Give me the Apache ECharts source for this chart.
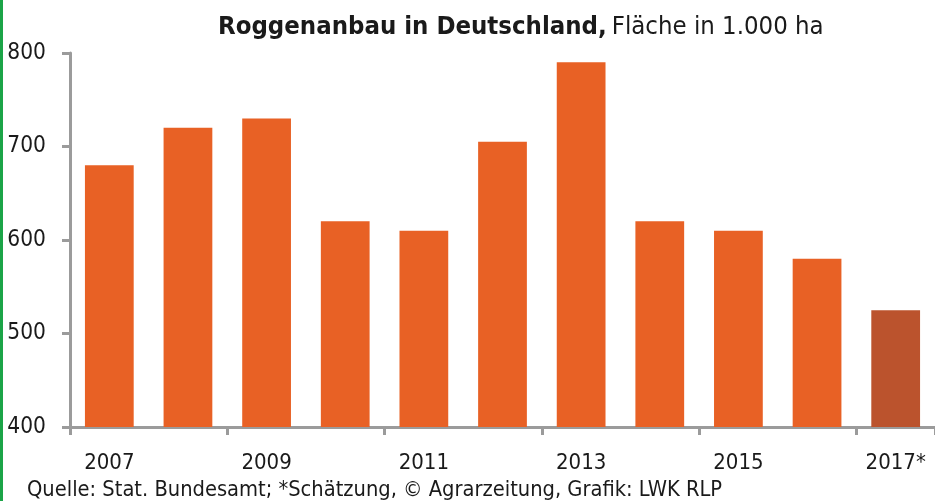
<!DOCTYPE html>
<html>
<head>
<meta charset="utf-8">
<script src="https://cdn.jsdelivr.net/npm/echarts@6/dist/echarts.min.js"></script>
<style>
  html, body { margin: 0; padding: 0; background: #fff; }
  #chart { width: 935px; height: 501px; }
</style>
</head>
<body>
<div id="chart"></div>
<script>
var years = ['2007', '2008', '2009', '2010', '2011', '2012', '2013', '2014', '2015', '2016', '2017*'];
var area = [680, 720, 730, 620, 610, 705, 790, 620, 610, 580, 525];
var estimated = [false, false, false, false, false, false, false, false, false, false, true];
var yTicks = [400, 500, 600, 700, 800];

var font = '"Liberation Sans Narrow", "DejaVu Sans Condensed", sans-serif';

var barData = area.map(function(v, i) {
    return {
        value: v,
        itemStyle: { color: estimated[i] ? '#BB532D' : '#E86125' }
    };
});

var chart = echarts.init(document.getElementById('chart'));

option = {
    backgroundColor: '#fff',
    animation: false,
    title: {
        left: 213,
        top: 9,
        text: '{b|Roggenanbau in Deutschland,} {n|Fläche in 1.000 ha}',
        textStyle: {
            rich: {
                b: { fontFamily: font, fontWeight: 'bold', fontSize: 25.5, color: '#1a1a1a' },
                n: { fontFamily: font, fontWeight: 'normal', fontSize: 25.5, color: '#1a1a1a' }
            }
        }
    },
    grid: {
        left: 70,
        right: -6,
        top: 53,
        bottom: 74
    },
    xAxis: {
        type: 'category',
        data: years,
        axisLine: { lineStyle: { color: '#9B9B9B', width: 3 } },
        axisTick: { show: true, length: 8, lineStyle: { color: '#9B9B9B', width: 3 } },
        axisLabel: {
            interval: 1,
            margin: 25,
            fontFamily: font,
            fontSize: 22,
            color: '#1a1a1a'
        }
    },
    yAxis: {
        type: 'value',
        min: yTicks[0],
        max: yTicks[yTicks.length - 1],
        interval: 100,
        axisLine: { show: true, lineStyle: { color: '#9B9B9B', width: 3 } },
        axisTick: { show: true, length: 8, lineStyle: { color: '#9B9B9B', width: 3 } },
        splitLine: { show: false },
        axisLabel: {
            margin: 24,
            fontFamily: font,
            fontSize: 22.5,
            color: '#1a1a1a'
        }
    },
    series: [{
        name: 'Fläche',
        type: 'bar',
        barWidth: '62%',
        data: barData
    }],
    graphic: [{
        type: 'rect',
        left: 0,
        top: 0,
        shape: { width: 3, height: 501 },
        style: { fill: '#1BA447' }
    }, {
        type: 'text',
        left: 27,
        top: 479,
        style: {
            text: 'Quelle: Stat. Bundesamt; *Schätzung, © Agrarzeitung, Grafik: LWK RLP',
            font: '21.7px ' + font,
            fill: '#1a1a1a'
        }
    }]
};

chart.setOption(option);
</script>
</body>
</html>
